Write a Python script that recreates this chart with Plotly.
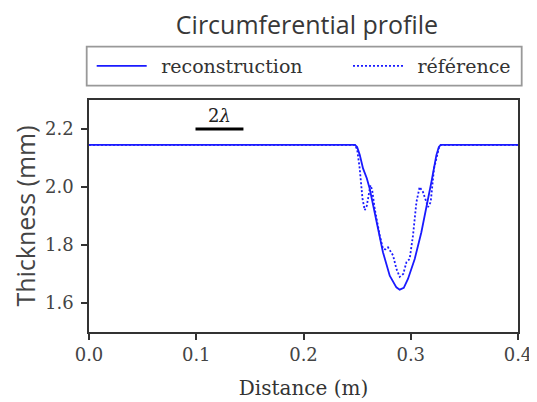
import plotly.graph_objects as go

# Reconstruction (solid)
recon_x = [0.0, 0.2480, 0.2500, 0.2525, 0.2555, 0.2590, 0.2617, 0.2650, 0.2680, 0.2741,
           0.2804, 0.2840, 0.2866, 0.2897, 0.2935, 0.2974, 0.3037, 0.3099, 0.3146,
           0.3193, 0.3239, 0.3262, 0.3280, 0.4]
recon_y = [2.145, 2.145, 2.138, 2.110, 2.064, 2.030, 1.995, 1.935, 1.879, 1.775,
           1.694, 1.668, 1.654, 1.646, 1.652, 1.683, 1.752, 1.844, 1.925,
           2.018, 2.110, 2.138, 2.145, 2.145]

# Reference (dotted)
ref_x = [0.0, 0.2480, 0.2500, 0.2524, 0.2550, 0.2571, 0.2590, 0.2610, 0.2624, 0.2640,
         0.2664, 0.2711, 0.2741, 0.2765, 0.2788, 0.2835, 0.2866, 0.2897, 0.2930,
         0.2960, 0.2990, 0.3021, 0.3053, 0.3083, 0.3114, 0.3161, 0.3186, 0.3217,
         0.3248, 0.3265, 0.3280, 0.4]
ref_y = [2.145, 2.145, 2.130, 2.064, 1.960, 1.920, 1.935, 1.985, 2.006, 1.990,
         1.925, 1.833, 1.787, 1.785, 1.792, 1.764, 1.718, 1.690, 1.700,
         1.741, 1.752, 1.833, 1.948, 2.000, 1.983, 1.931, 1.948, 2.064,
         2.110, 2.138, 2.145, 2.145]

x_ticks = [0.0, 0.1, 0.2, 0.3, 0.4]
x_tick_labels = ["0.0", "0.1", "0.2", "0.3", "0.4"]
y_ticks = [1.6, 1.8, 2.0, 2.2]
y_tick_labels = ["1.6", "1.8", "2.0", "2.2"]

BLUE = "#1a1aff"
SERIF = "DejaVu Serif"
SANS = "Open Sans"

# The page body adds an 8px offset; figure geometry compensates for it.
W, H = 529, 394
ML, MR, MT, MB = 81, 19, 92, 70
PW = W - ML - MR
PH = H - MT - MB


def px_to_paper_x(px):
    return (px - ML) / PW


def px_to_paper_y(py):
    return (H - MB - py) / PH


fig = go.Figure()
fig.add_trace(go.Scatter(x=recon_x, y=recon_y, mode="lines", name="\u2002reconstruction",
                         legend="legend",
                         line=dict(color=BLUE, width=1.8)))
fig.add_trace(go.Scatter(x=ref_x, y=ref_y, mode="lines", name="\u2002référence",
                         legend="legend2",
                         line=dict(color=BLUE, width=1.8, dash="2px,2px")))

# scale bar "2λ"
fig.add_shape(type="line", x0=0.0993, x1=0.144, y0=2.2, y1=2.2, xref="x", yref="y",
              line=dict(color="black", width=3))
fig.add_annotation(x=0.1216, y=2.2, xref="x", yref="y", text="2<i>λ</i>", showarrow=False,
                   yanchor="bottom", yshift=1, font=dict(family=SERIF, size=18, color="#222"))

# legend frame
fig.add_shape(type="rect", xref="paper", yref="paper",
              x0=px_to_paper_x(78.7), x1=px_to_paper_x(513.7),
              y0=px_to_paper_y(77.7), y1=px_to_paper_y(38.7),
              line=dict(color="#999", width=1.8), fillcolor="rgba(0,0,0,0)")

axis_common = dict(showline=True, linecolor="#333", linewidth=1.5, mirror=True,
                   ticks="outside", ticklen=6, tickwidth=1.5, tickcolor="#333",
                   showgrid=False, zeroline=False, automargin=False,
                   tickfont=dict(family=SERIF, size=18, color="#444"))

legend_common = dict(orientation="h", xanchor="left", yanchor="middle",
                     y=px_to_paper_y(58), borderwidth=0, bgcolor="rgba(0,0,0,0)",
                     font=dict(family=SERIF, size=19, color="#333"), itemwidth=50)

fig.update_layout(
    width=W, height=H,
    margin=dict(l=ML, r=MR, t=MT, b=MB),
    paper_bgcolor="white", plot_bgcolor="white",
    title=dict(text="Circumferential profile", x=299 / W, xref="container", xanchor="center",
               y=1 - 17 / H, yref="container", yanchor="middle",
               font=dict(family=SANS, size=25, color="#383838")),
    xaxis=dict(range=[0.0, 0.4], tickvals=x_ticks, ticktext=x_tick_labels,
               title=dict(text="Distance (m)", font=dict(family=SERIF, size=20, color="#333"), standoff=17),
               **axis_common),
    yaxis=dict(range=[1.5, 2.3], tickvals=y_ticks, ticktext=y_tick_labels, ticklabelstandoff=4,
               title=dict(text="Thickness (mm)", font=dict(family=SANS, size=25, color="#444"), standoff=14),
               **axis_common),
    legend=dict(x=px_to_paper_x(83.7), **legend_common),
    legend2=dict(x=px_to_paper_x(340), **legend_common),
    showlegend=True,
)

fig.write_html("out.html")
